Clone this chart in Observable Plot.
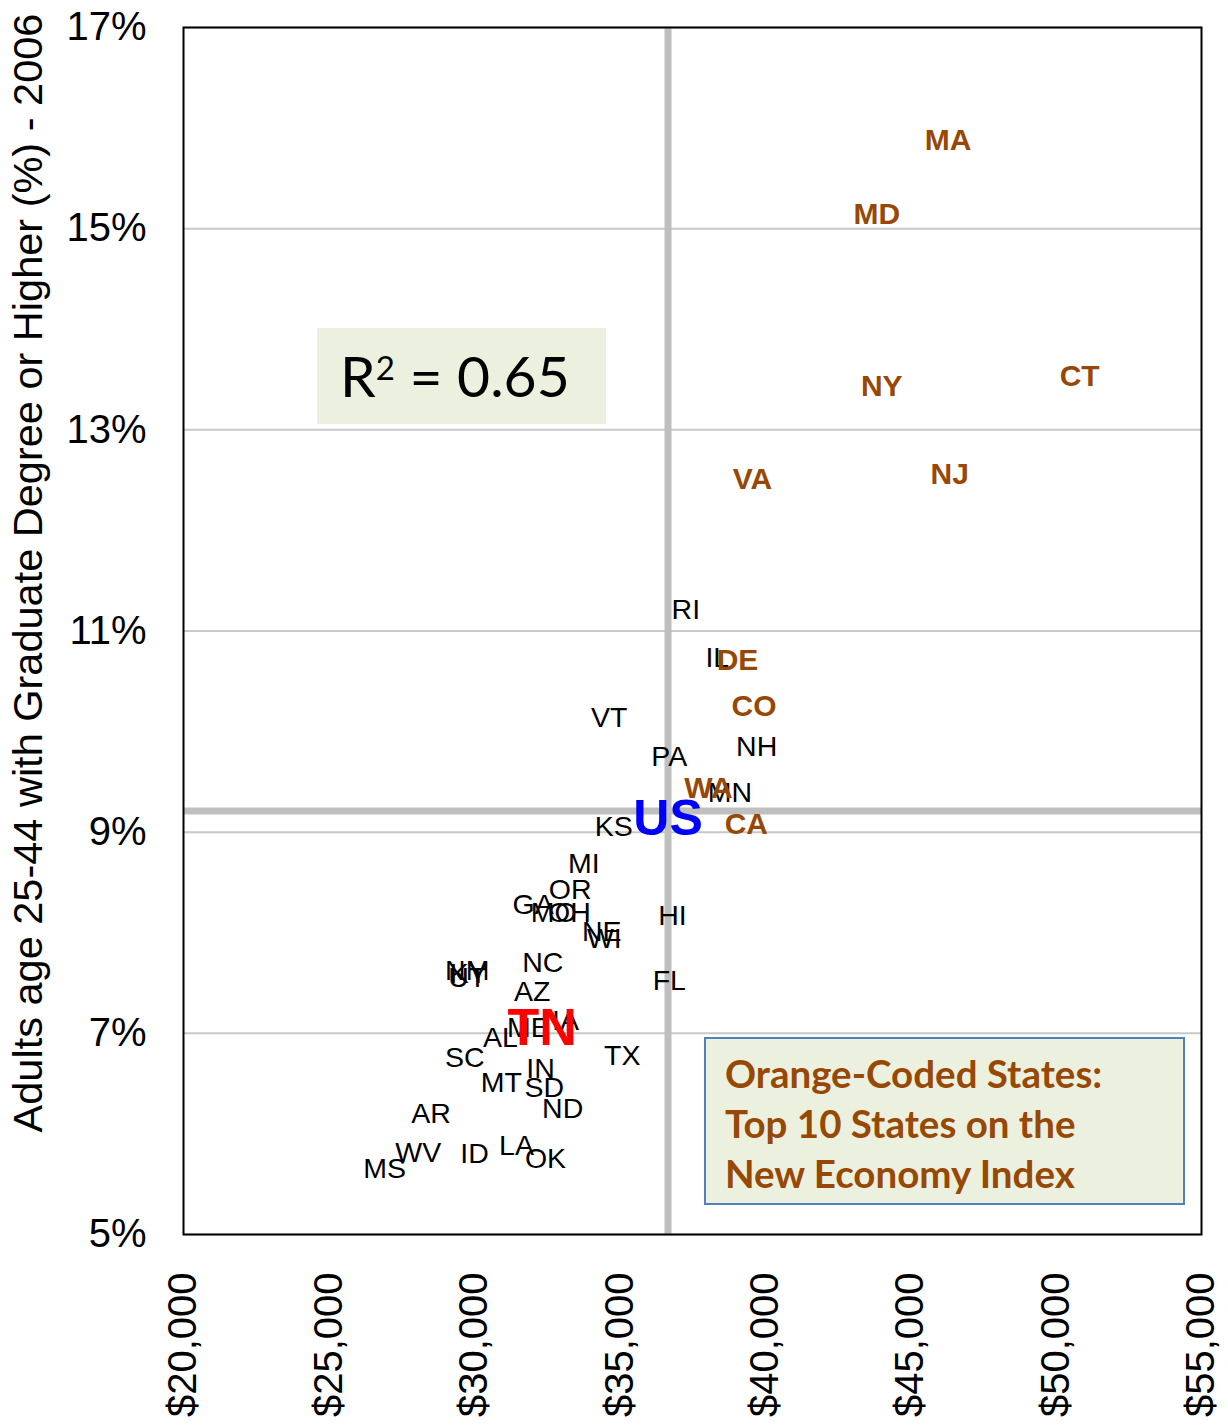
<!DOCTYPE html>
<html>
<head>
<meta charset="utf-8">
<script src="https://cdn.jsdelivr.net/npm/d3@7"></script>
<script src="https://cdn.jsdelivr.net/npm/@observablehq/plot@0.6"></script>
<style>
  body { margin: 0; background: #fff; }
  #wrap { position: relative; width: 1228px; height: 1427px; overflow: hidden; }
  #wrap > svg { position: absolute; left: 0; top: 0; }
</style>
</head>
<body>
<div id="wrap"></div>
<script>
// ---- data ----
const states = ["MA","MD","NY","CT","VA","NJ","RI","IL","DE","CO","VT","NH","PA","WA","MN","KS","CA",
  "MI","OR","GA","MO","OH","NE","WI","HI","NC","NM","KY","UT","FL","AZ","ME","IA","AL","SC","TX",
  "IN","MT","SD","ND","AR","WV","ID","LA","OK","MS","TN"];
const income = [46284,43836,44008,50812,39563,46343,37270,38353,39047,39614,34639,39707,36702,38050,38789,34794,39350,
  33763,33295,32023,32731,33271,34382,34468,36812,32350,29754,29809,29754,36702,31989,31861,33134,30899,29671,35083,
  32274,30926,32405,33037,28509,28073,30005,31449,32446,26917,32332];
const gradPct = [15.88,15.14,13.43,13.53,12.51,12.56,11.21,10.73,10.71,10.25,10.14,9.85,9.75,9.44,9.39,9.05,9.08,
  8.68,8.43,8.28,8.20,8.20,8.01,7.94,8.17,7.70,7.62,7.59,7.55,7.52,7.41,7.05,7.12,6.95,6.76,6.78,
  6.65,6.51,6.46,6.25,6.20,5.81,5.80,5.88,5.75,5.65,7.05];
const top10 = ["MA","MD","NY","CT","VA","NJ","DE","CO","WA","CA"];
const highlight = "TN";
const usLabel = "US";
const usIncome = 36658;
const usGrad = 9.21;
const xTicks = [20000,25000,30000,35000,40000,45000,50000,55000];
const yTicks = [5,7,9,11,13,15,17];
const yLabel = "Adults age 25-44 with Graduate Degree or Higher (%) - 2006";
const r2Value = "0.65";
const legendLines = ["Orange-Coded States:", "Top 10 States on the", "New Economy Index"];

// ---- table ----
const rows = states.map((s, i) => ({state: s, income: income[i], grad: gradPct[i]}));
const others = rows.filter(d => !top10.includes(d.state) && d.state !== highlight);
const tops = rows.filter(d => top10.includes(d.state));
const hl = rows.filter(d => d.state === highlight);

const FONT = "Liberation Sans, Arial, sans-serif";
const ORANGE = "#974806";

const chart = Plot.plot({
  width: 1228,
  height: 1427,
  marginLeft: 183,
  marginRight: 27,
  marginTop: 27,
  marginBottom: 193,
  style: {fontFamily: FONT, background: "white", overflow: "visible"},
  x: {domain: [20000, 55000]},
  y: {domain: [5, 17]},
  marks: [
    Plot.ruleY(yTicks, {stroke: "#c8c8c8", strokeWidth: 2}),
    Plot.ruleX([usIncome], {stroke: "#bfbfbf", strokeWidth: 7}),
    Plot.ruleY([usGrad], {stroke: "#bfbfbf", strokeWidth: 7}),
    Plot.frame({stroke: "#000", strokeWidth: 2}),
    Plot.text(others, {x: "income", y: "grad", text: "state", fontSize: 28.5, fill: "#000"}),
    Plot.text(tops, {x: "income", y: "grad", text: "state", fontSize: 30, fontWeight: "bold", fill: ORANGE}),
    Plot.text([{state: usLabel, income: usIncome, grad: usGrad}], {x: "income", y: "grad", text: "state", fontSize: 50, fontWeight: "bold", fill: "#0000ff", dy: 8}),
    Plot.text(hl, {x: "income", y: "grad", text: "state", fontSize: 52, fontWeight: "bold", fill: "#ff0000"}),
    Plot.axisX({ticks: xTicks, tickRotate: -90, tickSize: 0, tickPadding: 38, fontSize: 40, label: null,
      tickFormat: d => "$" + d3.format(",")(d)}),
    Plot.axisY({ticks: yTicks, tickSize: 0, tickPadding: 37, fontSize: 40, label: null,
      tickFormat: d => d + "%"}),
    Plot.text([yLabel], {frameAnchor: "left", textAnchor: "middle", rotate: -90, dx: -155, dy: -58, fontSize: 41.5, fill: "#000"})
  ]
});
document.getElementById("wrap").appendChild(chart);

// ---- annotation overlays ----
const ann = d3.select("#wrap").append("svg")
  .attr("width", 1228).attr("height", 1427)
  .style("font-family", "Lato, 'Open Sans', sans-serif");

ann.append("rect").attr("x", 317).attr("y", 328).attr("width", 289).attr("height", 96).attr("fill", "#ebf1de");
const r2 = ann.append("text").attr("x", 340).attr("y", 397).attr("font-size", 57).attr("fill", "#000");
r2.append("tspan").text("R");
r2.append("tspan").attr("dy", -17).attr("font-size", 33).text("2");
r2.append("tspan").attr("dy", 17).text(" = " + r2Value);

ann.append("rect").attr("x", 705).attr("y", 1038).attr("width", 479).attr("height", 166)
  .attr("fill", "#ebf1de").attr("stroke", "#4f81bd").attr("stroke-width", 2);
ann.selectAll("text.leg").data(legendLines).join("text").attr("class", "leg")
  .attr("x", 725).attr("y", (d, i) => 1088 + i * 50)
  .attr("font-size", 38.5).attr("font-weight", "bold").attr("fill", ORANGE)
  .text(d => d);
</script>
</body>
</html>
